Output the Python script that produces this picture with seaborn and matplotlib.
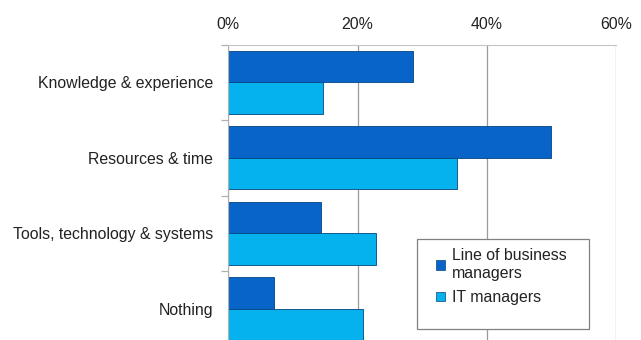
import pandas as pd
import seaborn as sns
import matplotlib.pyplot as plt
from matplotlib.patches import Patch, Rectangle
from matplotlib.ticker import FixedLocator, PercentFormatter

categories = ["Knowledge & experience", "Resources & time",
              "Tools, technology & systems", "Nothing"]
series = ["Line of business\nmanagers", "IT managers"]
lob_values = [28.6, 50.0, 14.3, 7.1]
it_values = [14.6, 35.4, 22.9, 20.9]
x_ticks = [0, 20, 40, 60]
colors = ["#0864C9", "#06B2EE"]

df = pd.DataFrame({
    "category": categories * 2,
    "group": [series[0]] * len(categories) + [series[1]] * len(categories),
    "value": lob_values + it_values,
})

sns.set_style("white")
plt.rcParams["font.family"] = ["Liberation Sans", "DejaVu Sans"]

fig = plt.figure(figsize=(6.41, 3.4), dpi=100)
ax = fig.add_axes([0.3562, -0.019, 0.6048, 0.888])

sns.barplot(data=df, y="category", x="value", hue="group", order=categories,
            hue_order=series, palette=colors, saturation=1, orient="h",
            width=0.84, edgecolor="#05447F", linewidth=0.6, ax=ax, legend=False)

ax.set_xlim(0, 60)
ax.set_ylim(3.5, -0.5)
ax.xaxis.set_major_locator(FixedLocator(x_ticks))
ax.xaxis.set_major_formatter(PercentFormatter(decimals=0))
ax.xaxis.tick_top()
ax.tick_params(axis="x", length=0, pad=9, labelsize=11.4, colors="#222222")
ax.grid(axis="x", color="#9A9A9A", linewidth=0.9)
ax.set_axisbelow(True)

ax.yaxis.set_minor_locator(FixedLocator([-0.5, 0.5, 1.5, 2.5]))
ax.tick_params(axis="y", which="major", length=0, pad=11, labelsize=11.4,
               labelcolor="#222222")
ax.tick_params(axis="y", which="minor", length=5, color="#B0B0B0", width=0.9,
               left=True)
ax.set_xlabel("")
ax.set_ylabel("")

for side in ["right", "bottom"]:
    ax.spines[side].set_visible(False)
ax.spines["top"].set_color("#C4C4C4")
ax.spines["left"].set_color("#B0B0B0")

# legend frame drawn separately so its size can follow the original box
fig.patches.append(Rectangle((417.3 / 641, 10.7 / 340), 171.4 / 641, 90 / 340,
                             transform=fig.transFigure, facecolor="white",
                             edgecolor="#808080", linewidth=0.9, zorder=5))
handles = [Patch(facecolor=c, edgecolor="#05447F", linewidth=0.5) for c in colors]
leg = fig.legend(handles, series, loc="upper left",
                 bbox_to_anchor=(0.668, 0.293), fontsize=11.4,
                 handlelength=0.55, handleheight=0.55, handletextpad=0.45,
                 labelspacing=0.6, borderpad=0.0, frameon=False)
leg.set_zorder(6)
for t in leg.get_texts():
    t.set_color("#222222")
    t.set_linespacing(1.2)

fig.savefig("out.png", dpi=100)
